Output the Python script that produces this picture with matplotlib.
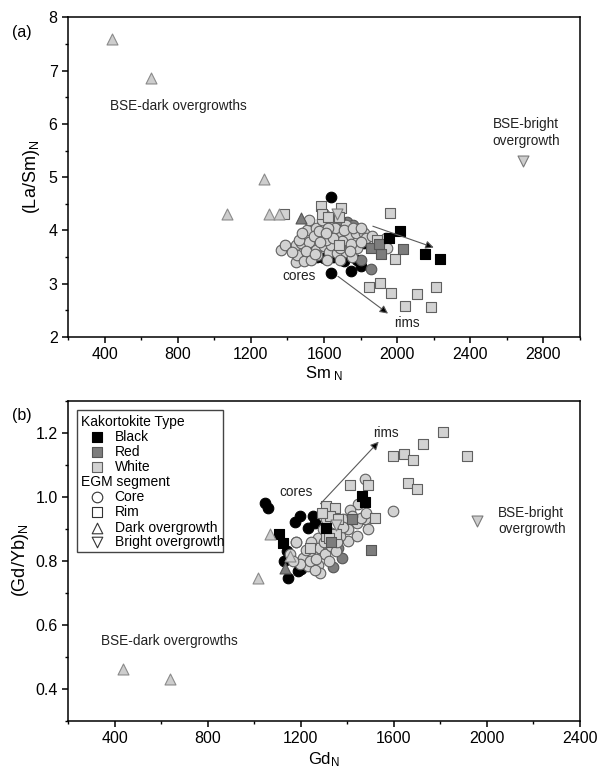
import numpy as np
import matplotlib
matplotlib.use('Agg')
import matplotlib.pyplot as plt
from matplotlib.ticker import MultipleLocator, FormatStrFormatter
from matplotlib.patches import Rectangle

plt.rcParams['font.family'] = ['Liberation Sans', 'DejaVu Sans']
plt.rcParams['mathtext.fontset'] = 'custom'
plt.rcParams['mathtext.rm'] = 'Liberation Sans'
plt.rcParams['mathtext.it'] = 'Liberation Sans'

# ---------- panel (a): Sm_N vs (La/Sm)_N ----------
a_core_white = [(1362, 3.64), (1385, 3.73), (1448, 3.40), (1445, 3.73), (1454, 3.54), (1472, 3.76),
                (1509, 4.01), (1518, 3.79), (1554, 4.04), (1582, 3.92), (1554, 3.64), (1600, 3.70),
                (1627, 3.60), (1618, 3.45), (1563, 3.54), (1490, 3.42), (1645, 3.95), (1636, 3.73),
                (1673, 3.92), (1673, 3.57), (1719, 3.60), (1737, 3.92), (1719, 4.10), (1636, 4.17),
                (1773, 3.95), (1782, 3.67), (1755, 3.51), (1819, 3.95), (1828, 3.85), (1938, 3.85),
                (1591, 4.20), (1518, 4.20), (1463, 3.82), (1426, 3.60), (1545, 3.89), (1609, 3.82),
                (1527, 3.45), (1600, 4.30), (1660, 4.05), (1700, 3.80), (1690, 3.68), (1750, 3.75),
                (1800, 3.78), (1860, 3.90), (1945, 3.67), (1570, 3.99), (1500, 3.62), (1480, 3.95),
                (1650, 3.85), (1710, 4.00), (1620, 4.05), (1580, 3.78), (1740, 3.62), (1760, 4.05),
                (1690, 3.45), (1550, 3.55), (1800, 4.05), (1610, 3.95)]
a_core_black = [(1636, 4.62), (1636, 3.21), (1709, 3.42), (1750, 3.23), (1801, 3.34), (1817, 3.76),
                (1600, 3.48), (1560, 3.50), (1530, 3.58), (1650, 3.50), (1780, 3.44), (1700, 4.15)]
a_core_red = [(1859, 3.28), (1723, 4.15), (1760, 4.10), (1800, 3.45), (1690, 4.20)]
a_rim_black = [(1954, 3.85), (2013, 3.99), (2150, 3.55), (2236, 3.47)]
a_rim_red = [(1859, 3.67), (1912, 3.56), (2034, 3.65), (1900, 3.75)]
a_rim_white = [(1960, 4.33), (1848, 2.94), (1907, 3.01), (1968, 2.83), (2107, 2.81), (2044, 2.59),
               (2185, 2.57), (2212, 2.94), (1989, 3.47), (1890, 3.83), (1381, 4.31), (1582, 4.45),
               (1587, 4.30), (1691, 4.42), (1682, 4.26), (1682, 3.73), (1620, 4.25)]
a_dark_white = [(438, 7.59), (653, 6.86), (1271, 4.97), (1067, 4.31), (1299, 4.30), (1353, 4.31)]
a_dark_red = [(1474, 4.23)]
a_bright = [(2690, 5.30), (1671, 4.31)]

# ---------- panel (b): Gd_N vs (Gd/Yb)_N ----------
b_core_white = [(1475, 1.056), (1597, 0.955), (1447, 0.976), (1411, 0.960), (1475, 0.929), (1490, 0.898),
                (1440, 0.919), (1404, 0.898), (1404, 0.861), (1368, 0.877), (1382, 0.929), (1275, 0.872),
                (1275, 0.840), (1181, 0.858), (1153, 0.820), (1210, 0.809), (1253, 0.814), (1303, 0.820),
                (1232, 0.783), (1275, 0.788), (1282, 0.762), (1332, 0.846), (1332, 0.887), (1440, 0.877),
                (1461, 0.934), (1296, 0.898), (1224, 0.835), (1178, 0.860), (1260, 0.770), (1350, 0.830),
                (1320, 0.800), (1195, 0.790), (1245, 0.860), (1300, 0.860), (1380, 0.905), (1420, 0.940),
                (1355, 0.860), (1165, 0.800), (1240, 0.800), (1480, 0.950), (1310, 0.930), (1265, 0.805)]
b_core_black = [(1045, 0.981), (1060, 0.965), (1196, 0.941), (1174, 0.921), (1253, 0.939), (1260, 0.919),
                (1232, 0.903), (1146, 0.747), (1189, 0.768), (1126, 0.800), (1200, 0.775), (1140, 0.830),
                (1310, 0.903)]
b_core_red = [(1378, 0.809), (1339, 0.780), (1360, 0.840), (1300, 0.830)]
b_rim_black = [(1107, 0.882), (1124, 0.856), (1465, 1.002), (1307, 0.901), (1475, 0.985)]
b_rim_red = [(1500, 0.832), (1422, 0.930), (1330, 0.860)]
b_rim_white = [(1810, 1.203), (1727, 1.165), (1597, 1.127), (1643, 1.132), (1683, 1.116), (1913, 1.127),
               (1411, 1.038), (1490, 1.038), (1662, 1.044), (1700, 1.025), (1518, 0.934), (1310, 0.971),
               (1346, 0.965), (1325, 0.939), (1310, 0.877), (1239, 0.840), (1350, 0.884), (1323, 0.870),
               (1360, 0.930), (1290, 0.950)]
b_dark_white = [(436, 0.462), (639, 0.431), (1018, 0.745), (1067, 0.882), (1153, 0.814)]
b_dark_red = [(1131, 0.778)]
b_bright = [(1956, 0.924), (1353, 0.913)]

legend_types = ['Black', 'Red', 'White']
legend_segments = ['Core', 'Rim', 'Dark overgrowth', 'Bright overgrowth']

# styles
FILL = {'black': '#000000', 'red': '#7d7d7d', 'white': '#d2d2d2'}
EDGE = {'black': '#000000', 'red': '#555555', 'white': '#606060'}
TRI_FILL, TRI_EDGE = '#cdcdcd', '#8a8a8a'


def pts(ax, data, marker, kind, s, fc=None, ec=None):
    arr = np.array(data)
    ax.scatter(arr[:, 0], arr[:, 1], marker=marker, s=s,
               facecolor=fc or FILL[kind], edgecolor=ec or EDGE[kind], linewidths=0.8, zorder=3)


def style_axes(ax):
    for sp in ax.spines.values():
        sp.set_linewidth(1.1)
    ax.tick_params(which='both', direction='out', top=False, right=False, labelsize=11.5)
    ax.tick_params(which='major', length=4, width=1.1)
    ax.tick_params(which='minor', length=2.5, width=1.0)


def arrow(ax, start, end):
    ax.annotate('', xy=end, xytext=start,
                arrowprops=dict(arrowstyle='-|>', ec='#5a5a5a', fc='black', lw=0.8,
                                mutation_scale=12, shrinkA=0, shrinkB=0), zorder=4)


fig = plt.figure(figsize=(6.03, 7.70), dpi=100)

# ---- panel (a)
ax1 = fig.add_axes([0.1128, 0.5623, 0.8491, 0.4152])
pts(ax1, a_core_black, 'o', 'black', 58)
pts(ax1, a_core_red, 'o', 'red', 58)
pts(ax1, a_core_white, 'o', 'white', 58)
pts(ax1, a_rim_white, 's', 'white', 42)
pts(ax1, a_rim_red, 's', 'red', 42)
pts(ax1, a_rim_black, 's', 'black', 42)
pts(ax1, a_dark_white, '^', 'white', 62, fc=TRI_FILL, ec=TRI_EDGE)
pts(ax1, a_dark_red, '^', 'red', 62)
pts(ax1, a_bright, 'v', 'white', 62, fc=TRI_FILL, ec='#7a7a7a')

ax1.set_xlim(200, 3000)
ax1.set_ylim(2, 8)
ax1.xaxis.set_major_locator(MultipleLocator(400))
ax1.xaxis.set_minor_locator(MultipleLocator(200))
ax1.yaxis.set_major_locator(MultipleLocator(1))
ax1.yaxis.set_minor_locator(MultipleLocator(0.5))
style_axes(ax1)
ax1.set_xlabel(r'Sm$_{\ \mathrm{N}}$', fontsize=12, labelpad=1)
ax1.set_ylabel(r'(La/Sm)$_\mathrm{N}$', fontsize=13, labelpad=5)

ax1.text(427, 6.33, 'BSE-dark overgrowths', fontsize=9.8, va='center', color='#222222')
ax1.text(2705, 5.84, 'BSE-bright\novergrowth', fontsize=9.8, ha='center', va='center',
         linespacing=1.2, color='#222222')
ax1.text(1463, 3.15, 'cores', fontsize=9.8, ha='center', va='center', color='#222222')
ax1.text(2052, 2.27, 'rims', fontsize=9.8, ha='center', va='center', color='#222222')
arrow(ax1, (1676, 3.14), (1950, 2.44))
arrow(ax1, (1867, 4.08), (2200, 3.68))

# ---- panel (b)
ax2 = fig.add_axes([0.1128, 0.0640, 0.8491, 0.4156])
pts(ax2, b_core_black, 'o', 'black', 58)
pts(ax2, b_core_red, 'o', 'red', 58)
pts(ax2, b_core_white, 'o', 'white', 58)
pts(ax2, b_rim_white, 's', 'white', 42)
pts(ax2, b_rim_red, 's', 'red', 42)
pts(ax2, b_rim_black, 's', 'black', 42)
pts(ax2, b_dark_white, '^', 'white', 62, fc=TRI_FILL, ec=TRI_EDGE)
pts(ax2, b_dark_red, '^', 'red', 62)
pts(ax2, b_bright, 'v', 'white', 62, fc=TRI_FILL, ec='#7a7a7a')

ax2.set_xlim(200, 2400)
ax2.set_ylim(0.3, 1.3)
ax2.xaxis.set_major_locator(MultipleLocator(400))
ax2.xaxis.set_minor_locator(MultipleLocator(200))
ax2.yaxis.set_major_locator(MultipleLocator(0.2))
ax2.yaxis.set_minor_locator(MultipleLocator(0.1))
ax2.yaxis.set_major_formatter(FormatStrFormatter('%.1f'))
style_axes(ax2)
ax2.set_xlabel(r'Gd$_\mathrm{N}$', fontsize=12, labelpad=3)
ax2.set_ylabel(r'(Gd/Yb)$_\mathrm{N}$', fontsize=13, labelpad=3)

ax2.text(342, 0.55, 'BSE-dark overgrowths', fontsize=9.8, va='center', color='#222222')
ax2.text(2048, 0.924, 'BSE-bright\novergrowth', fontsize=9.8, ha='left', va='center',
         linespacing=1.2, color='#222222')
ax2.text(1180, 1.014, 'cores', fontsize=9.8, ha='center', va='center', color='#222222')
ax2.text(1566, 1.20, 'rims', fontsize=9.8, ha='center', va='center', color='#222222')
arrow(ax2, (1285, 0.978), (1535, 1.172))

# hand-made legend box (two grouped headers)
T = ax2.transAxes
ax2.add_patch(Rectangle((0.018, 0.527), 0.285, 0.444, transform=T, fill=False,
                        ec='#444444', lw=1.0, zorder=5))
rows = [0.934, 0.887, 0.840, 0.793, 0.745, 0.698, 0.651, 0.603, 0.557]
ax2.text(0.025, rows[0], 'Kakortokite Type', transform=T, fontsize=10, va='center', zorder=6)
for y, name in zip(rows[1:4], legend_types):
    kind = name.lower()
    ax2.scatter([0.056], [y], transform=T, marker='s', s=42, facecolor=FILL[kind],
                edgecolor=EDGE[kind], linewidths=0.8, zorder=6, clip_on=False)
    ax2.text(0.091, y, name, transform=T, fontsize=10, va='center', zorder=6)
ax2.text(0.025, rows[4], 'EGM segment', transform=T, fontsize=10, va='center', zorder=6)
for y, name, m in zip(rows[5:], legend_segments, ['o', 's', '^', 'v']):
    ax2.scatter([0.056], [y], transform=T, marker=m, s=58 if m != 's' else 48,
                facecolor='white', edgecolor='#333333', linewidths=0.8, zorder=6, clip_on=False)
    ax2.text(0.091, y, name, transform=T, fontsize=10, va='center', zorder=6)

fig.text(0.036, 0.958, '(a)', fontsize=11.5, va='center', ha='center')
fig.text(0.036, 0.461, '(b)', fontsize=11.5, va='center', ha='center')

fig.savefig('out.png', dpi=100)
